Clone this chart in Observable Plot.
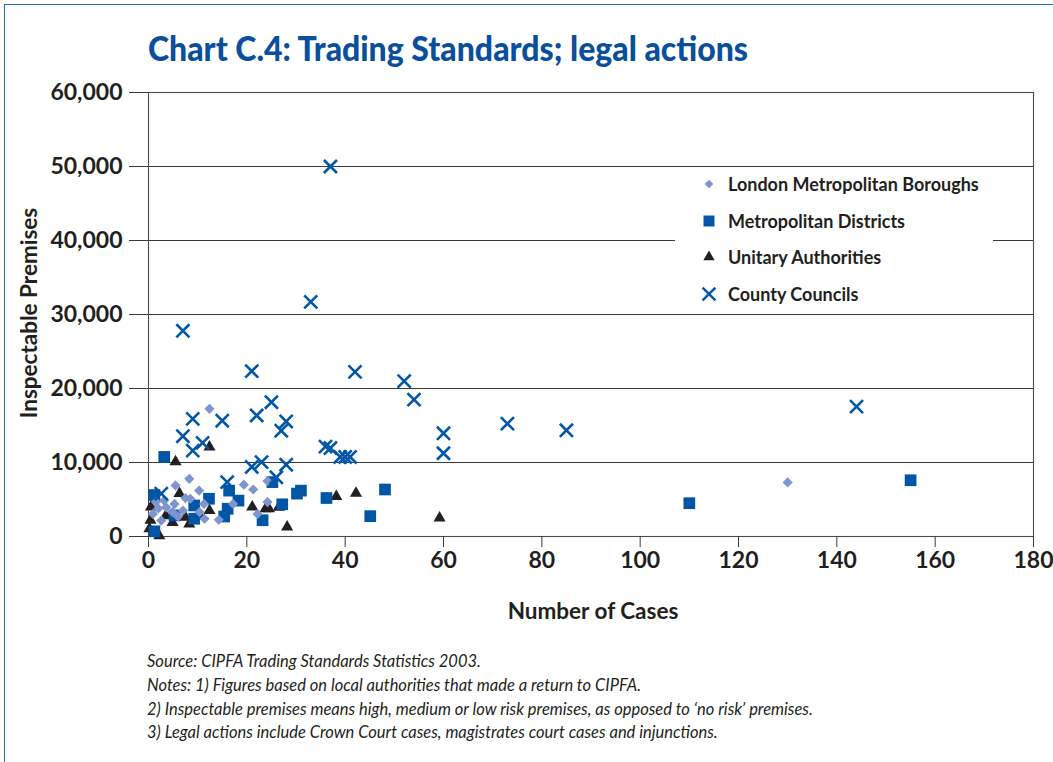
<!DOCTYPE html>
<html><head><meta charset="utf-8">
<script src="https://cdn.jsdelivr.net/npm/d3@7"></script>
<script src="https://cdn.jsdelivr.net/npm/@observablehq/plot@0.6"></script>
<style>
body{margin:0;background:#fff;}
#page{position:relative;width:1053px;height:762px;overflow:hidden;font-family:Lato,"Open Sans",sans-serif;color:#231f20;background:#fff;}
#border{position:absolute;left:4px;top:4px;width:1100px;height:800px;border-left:1.5px solid #2d66b0;border-top:1.5px solid #2d66b0;}
#title{position:absolute;left:148px;top:30px;font-size:35px;font-weight:900;color:#0a4f9e;white-space:nowrap;transform-origin:left top;line-height:1;}
#chart{position:absolute;left:0;top:70px;}
#legend{position:absolute;left:675px;top:168px;width:318px;height:142px;background:#fff;}
.lg{position:absolute;left:0;height:20px;display:flex;align-items:center;font-size:18px;font-weight:700;white-space:nowrap;}
.lg svg{margin-left:24px;margin-right:9px;}
#ylabel{position:absolute;left:28px;top:313px;transform:translate(-50%,-50%) rotate(-90deg);font-size:22.5px;font-weight:700;white-space:nowrap;}
#xlabel{position:absolute;left:593px;top:610px;transform:translate(-50%,-50%);font-size:22.5px;font-weight:700;white-space:nowrap;}
#notes{position:absolute;left:147px;top:650px;font-size:16.5px;font-style:italic;line-height:23.8px;color:#231f20;white-space:nowrap;}
</style></head>
<body>
<div id="page">
  <div id="border"></div>
  <div id="title">Chart C.4: Trading Standards; legal actions</div>
  <div id="chart"></div>
  <div id="legend"></div>
  <div id="ylabel">Inspectable Premises</div>
  <div id="xlabel">Number of Cases</div>
  <div id="notes">
    <div>Source: CIPFA Trading Standards Statistics 2003.</div>
    <div>Notes: 1) Figures based on local authorities that made a return to CIPFA.</div>
    <div>2) Inspectable premises means high, medium or low risk premises, as opposed to ‘no risk’ premises.</div>
    <div>3) Legal actions include Crown Court cases, magistrates court cases and injunctions.</div>
  </div>
</div>
<script>
// ---- Data ----
const seriesNames = ["London Metropolitan Boroughs", "Metropolitan Districts", "Unitary Authorities", "County Councils"];

const londonCases    = [12.4, 8.3, 5.5, 10.3, 7.5, 8.5, 19.4, 21.3, 24.2, 24.2, 17.2, 22.2, 14.3, 11.4, 10.4, 3.2, 1.5, 5.3, 7.0, 3.6, 0.9, 4.9, 2.6, 11.3, 130, 2.0, 6.0];
const londonPremises = [17250, 7800, 6900, 6200, 5200, 5100, 7000, 6350, 7500, 4650, 4400, 3050, 2250, 2400, 3300, 4850, 4650, 4400, 3500, 3950, 3050, 3300, 2150, 4400, 7300, 3800, 2700];

const metCases    = [3.2, 1.2, 1.2, 12.3, 9.3, 9.3, 5.3, 16.4, 18.3, 16.1, 15.4, 25.2, 30.2, 31.0, 27.2, 23.2, 36.2, 48.1, 45.1, 110, 155];
const metPremises = [10750, 5600, 700, 5100, 4200, 2400, 2850, 6200, 4850, 3750, 2700, 7350, 5800, 6200, 4350, 2200, 5200, 6350, 2750, 4500, 7600];

const unitaryCases    = [5.5, 12.4, 6.3, 0.5, 0.4, 0.2, 2.2, 4.9, 8.3, 12.4, 21.1, 23.8, 24.5, 26.5, 28.2, 38.2, 42.2, 59.2, 3.5, 7.5, 10.5];
const unitaryPremises = [10100, 12100, 5800, 4000, 2200, 1050, 100, 1900, 1700, 3500, 4000, 3750, 3750, 3950, 1300, 5400, 5850, 2500, 2800, 2600, 2800];

const countyCases    = [37, 33, 7, 21, 42, 52, 54, 25, 22, 9, 15, 28, 27, 7, 11, 9, 36, 37, 39, 40, 41, 60, 60, 73, 85, 144, 21, 23, 28, 16, 26, 2.6];
const countyPremises = [50000, 31700, 27800, 22350, 22250, 21000, 18500, 18150, 16350, 15900, 15650, 15550, 14300, 13550, 12650, 11600, 12150, 11950, 10750, 10750, 10750, 13950, 11250, 15250, 14350, 17550, 9400, 10050, 9700, 7350, 8000, 5800];

const xTicks = [0, 20, 40, 60, 80, 100, 120, 140, 160, 180];
const yTicks = [0, 10000, 20000, 30000, 40000, 50000, 60000];

// ---- Build rows ----
const rows = (xs, ys, s) => xs.map((x, i) => ({cases: x, premises: ys[i], series: s}));
const london = rows(londonCases, londonPremises, seriesNames[0]);
const met = rows(metCases, metPremises, seriesNames[1]);
const unitary = rows(unitaryCases, unitaryPremises, seriesNames[2]);
const county = rows(countyCases, countyPremises, seriesNames[3]);

const C = {london: "#7e95cf", met: "#0055a5", unitary: "#231f20", county: "#0057a8"};

const chart = Plot.plot({
  width: 1053,
  height: 570,
  marginTop: 22,
  marginBottom: 104,
  marginLeft: 148,
  marginRight: 20,
  style: {fontFamily: "Lato, 'Open Sans', sans-serif", fontSize: "23px", fontWeight: "bold", color: "#231f20", background: "transparent"},
  x: {domain: [0, 180]},
  y: {domain: [0, 60000]},
  marks: [
    Plot.gridY(yTicks.filter(d => d > 0), {stroke: "#3a3a3a", strokeOpacity: 1, strokeWidth: 1.1}),
    Plot.frame({stroke: "#4a4a4a", strokeWidth: 1.1}),
    Plot.axisY(yTicks, {tickSize: 19, tickPadding: 7, tickFormat: d3.format(","), label: null, stroke: "#3a3a3a"}),
    Plot.axisX(xTicks, {tickSize: 11, tickPadding: 4, label: null, stroke: "#3a3a3a"}),
    Plot.dot(unitary, {x: "cases", y: "premises", symbol: "triangle", fill: C.unitary, stroke: "none", r: 4.5}),
    Plot.dot(met, {x: "cases", y: "premises", symbol: "square", fill: C.met, stroke: "none", r: 6.6}),
    Plot.dot(london, {x: "cases", y: "premises", symbol: "diamond2", fill: C.london, stroke: "none", r: 4.6}),
    Plot.dot(county, {x: "cases", y: "premises", symbol: "times", stroke: C.county, strokeWidth: 2.6, r: 6})
  ]
});
document.getElementById("chart").append(chart);

// ---- Legend ----
const legendItems = [
  {name: seriesNames[0], type: d3.symbolDiamond2, size: 48, fill: C.london, stroke: "none"},
  {name: seriesNames[1], type: d3.symbolSquare, size: 120, fill: C.met, stroke: "none"},
  {name: seriesNames[2], type: d3.symbolTriangle, size: 55, fill: C.unitary, stroke: "none"},
  {name: seriesNames[3], type: d3.symbolTimes, size: 110, fill: "none", stroke: C.county}
];
const legend = d3.select("#legend");
legendItems.forEach((it, i) => {
  const row = legend.append("div").attr("class", "lg").style("top", (6 + i * 36.7) + "px");
  const svg = row.append("svg").attr("width", 20).attr("height", 20);
  svg.append("path").attr("transform", "translate(10,10)")
    .attr("d", d3.symbol(it.type, it.size)())
    .attr("fill", it.fill).attr("stroke", it.stroke).attr("stroke-width", 2.4);
  row.append("span").text(it.name);
});

// ---- Fit title width to reference ----
const t = document.getElementById("title");
const w = t.getBoundingClientRect().width;
t.style.transform = `scaleX(${600 / w})`;
</script>
</body></html>
